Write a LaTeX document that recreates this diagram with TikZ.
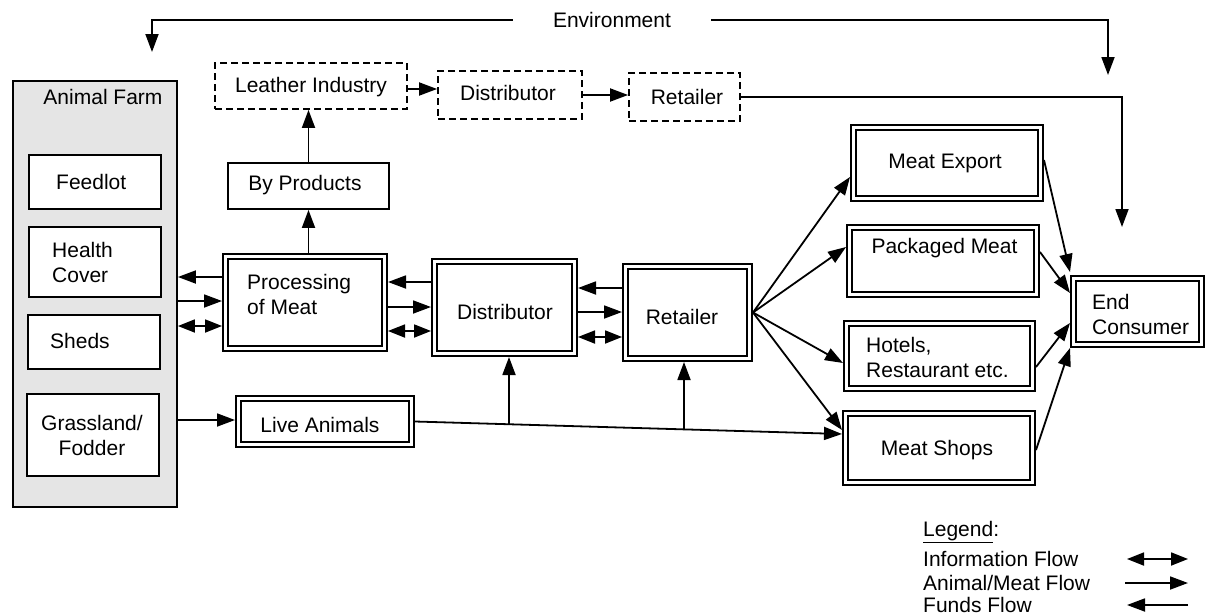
\documentclass[tikz,border=0pt]{standalone}
\usepackage{fontspec}
\setmainfont{Liberation Sans}
\usetikzlibrary{arrows.meta,calc}
\begin{document}
\begin{tikzpicture}[x=1pt,y=-1pt,
  font=\fontsize{21}{25}\selectfont,
  ln/.style={line width=1.8pt},
  fw/.style={ln,-{Triangle[length=18pt,width=13pt]}},
  bi/.style={ln,{Triangle[length=17pt,width=13pt]}-{Triangle[length=17pt,width=13pt]}},
  sbox/.style={draw,line width=1.8pt,inner sep=0,fill=white},
  dashbox/.style={draw,line width=1.8pt,dash pattern=on 7pt off 4pt,inner sep=0},
  dbox/.style={draw,double,line width=1.8pt,double distance=3.2pt,outer sep=3.4pt,inner sep=0,fill=white},
  txt/.style={inner sep=0,align=left},
  farmbox/.style={draw,line width=1.8pt,inner sep=0,fill=black!10}
]
\useasboundingbox (0,0) rectangle (1208,616);

% Animal farm
\node[farmbox,minimum width=164,minimum height=426] (farm) at (95,294) {};
\node[txt] (tfarm) at (103,97) {Animal Farm};
\node[sbox,minimum width=132,minimum height=54] (feed) at (95,182) {};
\node[txt,anchor=west] (tfeed) at (56,182) {Feedlot};
\node[sbox,minimum width=132,minimum height=70] (health) at (95,262) {};
\node[txt,anchor=west] (thealth) at (52,262) {Health\\Cover};
\node[sbox,minimum width=132,minimum height=54] (sheds) at (94,342) {};
\node[txt,anchor=west] (tsheds) at (50,341) {Sheds};
\node[sbox,minimum width=132,minimum height=82] (grass) at (93,435) {};
\node[txt,align=center] (tgrass) at (92,435) {Grassland/\\Fodder};

% main chain
\node[dbox,minimum width=159.2,minimum height=92.2] (proc) at (305,302.5) {};
\node[txt,anchor=west] (tproc) at (247,294.5) {Processing\\of Meat};
\node[dbox,minimum width=140.2,minimum height=92.2] (dist) at (504.5,307.5) {};
\node[txt] (tdist) at (505,312) {Distributor};
\node[dbox,minimum width=124.2,minimum height=92.2] (ret) at (687.5,312.5) {};
\node[txt] (tret) at (682,317) {Retailer};
\node[dbox,minimum width=173.2,minimum height=46.2] (live) at (325,421.5) {};
\node[txt] (tlive) at (320,425) {Live Animals};
\node[sbox,minimum width=161,minimum height=46] (byp) at (308.5,186) {};
\node[txt] (tbyp) at (305,185) {By Products};

% dashed chain
\node[dashbox,minimum width=192,minimum height=46] (leather) at (311,86) {};
\node[txt] (tleather) at (311,87) {Leather Industry};
\node[dashbox,minimum width=144,minimum height=48] (dd) at (510,95) {};
\node[txt] (tdd) at (508,93) {Distributor};
\node[dashbox,minimum width=111,minimum height=48] (rd) at (684.5,97) {};
\node[txt] (trd) at (687,97) {Retailer};

% outlets
\node[dbox,minimum width=187.2,minimum height=71.2] (export) at (947,163) {};
\node[txt] (texport) at (945,163) {Meat Export};
\node[dbox,minimum width=187.2,minimum height=67.2] (pack) at (943,261) {};
\node[txt] (tpack) at (944.5,248) {Packaged Meat};
\node[dbox,minimum width=186.2,minimum height=65.2] (hotel) at (939.5,356) {};
\node[txt,anchor=west] (thotel) at (866,357) {Hotels,\\Restaurant etc.};
\node[dbox,minimum width=187.2,minimum height=69.2] (shops) at (939,448) {};
\node[txt] (tshops) at (937,450) {Meat Shops};
\node[dbox,minimum width=128.2,minimum height=66.2] (ec) at (1137.5,311.5) {};
\node[txt,anchor=west] (tec) at (1092,314.5) {End\\Consumer};

% environment
\node[inner xsep=40pt,inner ysep=0] (env) at (612,20) {Environment};
\coordinate (envL) at (152,52);
\coordinate (envR) at (1108,75);
\draw[fw] (env.west) -| (envL);
\draw[fw] (env.east) -| (envR);

% dashed chain arrows
\draw[fw] (leather.east |- 0,89) -- (dd.west |- 0,89);
\draw[fw] (dd.east |- 0,95) -- (rd.west |- 0,95);
\coordinate (rdend) at (1122,227);
\draw[fw] (rd.east) -| (rdend);

% by products
\draw[fw] (byp.south |- proc.north) -- (byp.south);
\draw[fw] (byp.north) -- (byp.north |- leather.south);

% farm <-> processing
\draw[fw] (proc.west |- 0,277) -- (farm.east |- 0,277);
\draw[fw] (farm.east |- 0,301) -- (proc.west |- 0,301);
\draw[bi] (farm.east |- 0,326) -- (proc.west |- 0,326);

% processing <-> distributor
\draw[fw] (dist.west |- 0,282) -- (proc.east |- 0,282);
\draw[fw] (proc.east |- 0,307) -- (dist.west |- 0,307);
\draw[bi] (proc.east |- 0,331) -- (dist.west |- 0,331);

% distributor <-> retailer
\draw[fw] (ret.west |- 0,288) -- (dist.east |- 0,288);
\draw[fw] (dist.east |- 0,312) -- (ret.west |- 0,312);
\draw[bi] (dist.east |- 0,337) -- (ret.west |- 0,337);

% live animals
\draw[fw] (farm.east |- 0,420) -- (live.west |- 0,420);
\draw[fw] (live.east) -- (shops.west |- 0,434);
\coordinate (b1) at (509,424.5);
\coordinate (b2) at (684,429);
\draw[fw] (b1) -- (b1 |- dist.south);
\draw[fw] (b2) -- (b2 |- ret.south);

% retailer fan
\draw[fw] (ret.east) -- (export.west |- 0,177);
\draw[fw] (ret.east) -- (pack.west |- 0,247);
\draw[fw] (ret.east) -- (hotel.west |- 0,363);
\draw[fw] (ret.east) -- (shops.west |- 0,430);

% to end consumer
\draw[fw] (export.east |- 0,160) -- (ec.west |- 0,272);
\draw[fw] (pack.east |- 0,252) -- (ec.west |- 0,293);
\draw[fw] (hotel.east |- 0,367) -- (ec.west |- 0,323);
\draw[fw] (shops.east |- 0,450) -- (ec.west |- 0,348);

% legend
\node[txt,anchor=west] (lg) at (923,532) {\underline{Legend}:};
\node[txt,anchor=west] (lg1) at (923,559) {Information Flow};
\node[txt,anchor=west] (lg2) at (923,583) {Animal/Meat Flow};
\node[txt,anchor=west] (lg3) at (923,605) {Funds Flow};
\coordinate (l1a) at (1127,559); \coordinate (l1b) at (1188,559);
\coordinate (l2a) at (1125,583); \coordinate (l2b) at (1188,583);
\coordinate (l3a) at (1127,605); \coordinate (l3b) at (1188,605);
\draw[bi] (l1a) -- (l1b);
\draw[fw] (l2a) -- (l2b);
\draw[fw] (l3b) -- (l3a);
\end{tikzpicture}
\end{document}
